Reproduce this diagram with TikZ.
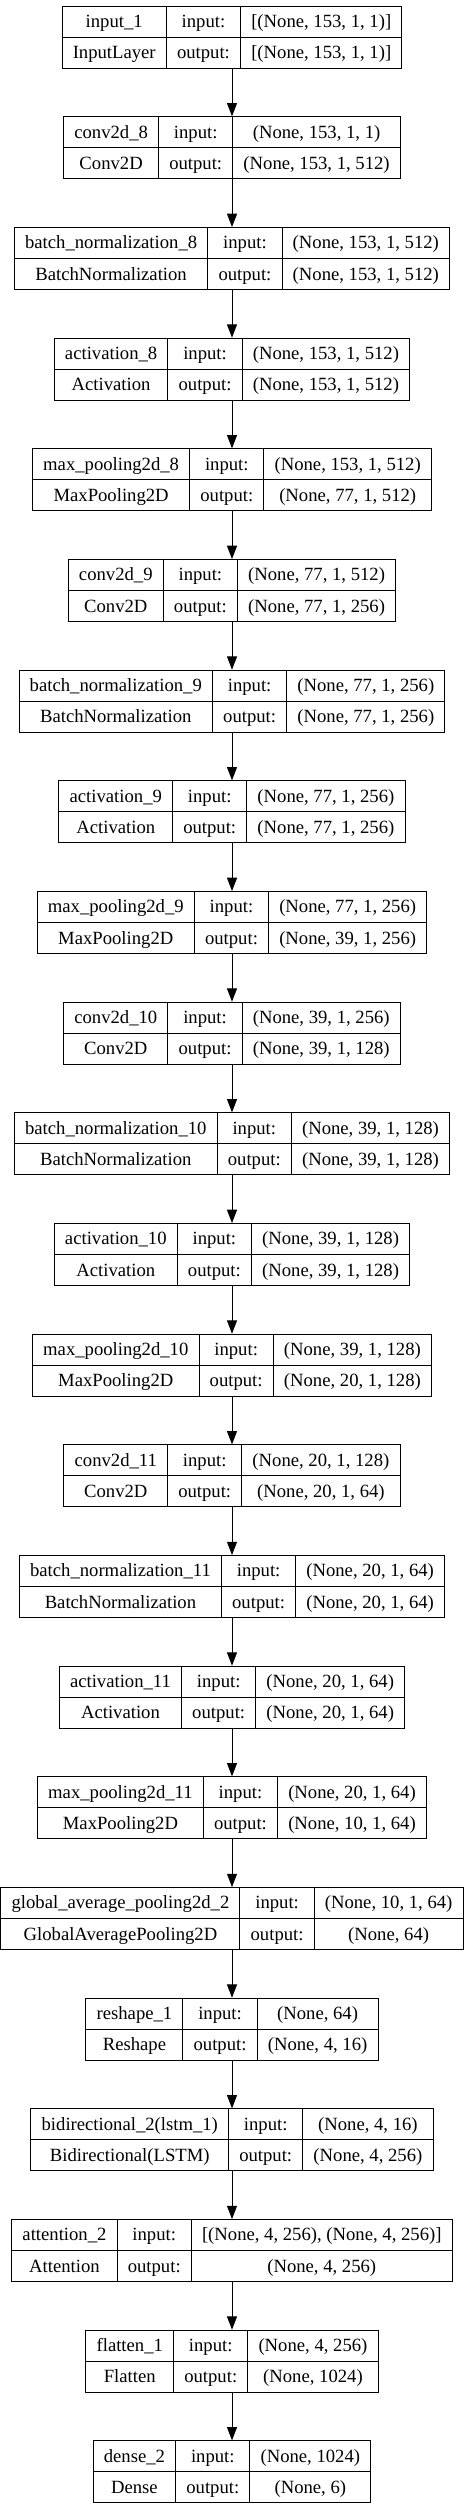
\documentclass[tikz,border=0pt]{standalone}
\usepackage{fontspec}
\setmainfont{Liberation Serif}
\usetikzlibrary{arrows.meta, positioning}
\newlength{\layerstep}
\setlength{\layerstep}{83pt}
\newlength{\topgap}
\setlength{\topgap}{4.3pt}
\newlength{\midx}
\setlength{\midx}{174pt}
\setlength{\tabcolsep}{8pt}
\setlength{\arrayrulewidth}{0.75pt}
\newcommand{\rowstrut}{\rule[-7pt]{0pt}{22.9pt}}
\newcommand{\layertext}[4]{\begin{tabular}{c|c|c}\rowstrut #1 & input: & #3 \\ \hline \rowstrut #2 & output: & #4 \end{tabular}}

\begin{document}
\begin{tikzpicture}[layer/.style={draw, inner sep=0pt, line width=0.75pt, anchor=north, font=\fontsize{14pt}{17pt}\selectfont}, flow/.style={-{Triangle[length=10pt, width=7.5pt]}, line width=0.75pt}]
  \useasboundingbox (0,0) rectangle (348pt,-1881pt);
  %Make nodes with one table per layer
  \draw (\midx, {-\topgap}) node[layer] (input) {\layertext{input\_1}{InputLayer}{[(None, 153, 1, 1)]}{[(None, 153, 1, 1)]}};
  \draw (\midx, {-\topgap-1\layerstep}) node[layer] (conv8) {\layertext{conv2d\_8}{Conv2D}{(None, 153, 1, 1)}{(None, 153, 1, 512)}};
  \draw (\midx, {-\topgap-2\layerstep}) node[layer] (bn8) {\layertext{batch\_normalization\_8}{BatchNormalization}{(None, 153, 1, 512)}{(None, 153, 1, 512)}};
  \draw (\midx, {-\topgap-3\layerstep}) node[layer] (act8) {\layertext{activation\_8}{Activation}{(None, 153, 1, 512)}{(None, 153, 1, 512)}};
  \draw (\midx, {-\topgap-4\layerstep}) node[layer] (pool8) {\layertext{max\_pooling2d\_8}{MaxPooling2D}{(None, 153, 1, 512)}{(None, 77, 1, 512)}};
  \draw (\midx, {-\topgap-5\layerstep}) node[layer] (conv9) {\layertext{conv2d\_9}{Conv2D}{(None, 77, 1, 512)}{(None, 77, 1, 256)}};
  \draw (\midx, {-\topgap-6\layerstep}) node[layer] (bn9) {\layertext{batch\_normalization\_9}{BatchNormalization}{(None, 77, 1, 256)}{(None, 77, 1, 256)}};
  \draw (\midx, {-\topgap-7\layerstep}) node[layer] (act9) {\layertext{activation\_9}{Activation}{(None, 77, 1, 256)}{(None, 77, 1, 256)}};
  \draw (\midx, {-\topgap-8\layerstep}) node[layer] (pool9) {\layertext{max\_pooling2d\_9}{MaxPooling2D}{(None, 77, 1, 256)}{(None, 39, 1, 256)}};
  \draw (\midx, {-\topgap-9\layerstep}) node[layer] (conv10) {\layertext{conv2d\_10}{Conv2D}{(None, 39, 1, 256)}{(None, 39, 1, 128)}};
  \draw (\midx, {-\topgap-10\layerstep}) node[layer] (bn10) {\layertext{batch\_normalization\_10}{BatchNormalization}{(None, 39, 1, 128)}{(None, 39, 1, 128)}};
  \draw (\midx, {-\topgap-11\layerstep}) node[layer] (act10) {\layertext{activation\_10}{Activation}{(None, 39, 1, 128)}{(None, 39, 1, 128)}};
  \draw (\midx, {-\topgap-12\layerstep}) node[layer] (pool10) {\layertext{max\_pooling2d\_10}{MaxPooling2D}{(None, 39, 1, 128)}{(None, 20, 1, 128)}};
  \draw (\midx, {-\topgap-13\layerstep}) node[layer] (conv11) {\layertext{conv2d\_11}{Conv2D}{(None, 20, 1, 128)}{(None, 20, 1, 64)}};
  \draw (\midx, {-\topgap-14\layerstep}) node[layer] (bn11) {\layertext{batch\_normalization\_11}{BatchNormalization}{(None, 20, 1, 64)}{(None, 20, 1, 64)}};
  \draw (\midx, {-\topgap-15\layerstep}) node[layer] (act11) {\layertext{activation\_11}{Activation}{(None, 20, 1, 64)}{(None, 20, 1, 64)}};
  \draw (\midx, {-\topgap-16\layerstep}) node[layer] (pool11) {\layertext{max\_pooling2d\_11}{MaxPooling2D}{(None, 20, 1, 64)}{(None, 10, 1, 64)}};
  \draw (\midx, {-\topgap-17\layerstep}) node[layer] (gap) {\layertext{global\_average\_pooling2d\_2}{GlobalAveragePooling2D}{(None, 10, 1, 64)}{(None, 64)}};
  \draw (\midx, {-\topgap-18\layerstep}) node[layer] (reshape) {\layertext{reshape\_1}{Reshape}{(None, 64)}{(None, 4, 16)}};
  \draw (\midx, {-\topgap-19\layerstep}) node[layer] (bilstm) {\layertext{bidirectional\_2(lstm\_1)}{Bidirectional(LSTM)}{(None, 4, 16)}{(None, 4, 256)}};
  \draw (\midx, {-\topgap-20\layerstep}) node[layer] (attn) {\layertext{attention\_2}{Attention}{[(None, 4, 256), (None, 4, 256)]}{(None, 4, 256)}};
  \draw (\midx, {-\topgap-21\layerstep}) node[layer] (flat) {\layertext{flatten\_1}{Flatten}{(None, 4, 256)}{(None, 1024)}};
  \draw (\midx, {-\topgap-22\layerstep}) node[layer] (dense) {\layertext{dense\_2}{Dense}{(None, 1024)}{(None, 6)}};

  %straight arrows between layers
  \path (input) edge[flow] (conv8);
  \path (conv8) edge[flow] (bn8);
  \path (bn8) edge[flow] (act8);
  \path (act8) edge[flow] (pool8);
  \path (pool8) edge[flow] (conv9);
  \path (conv9) edge[flow] (bn9);
  \path (bn9) edge[flow] (act9);
  \path (act9) edge[flow] (pool9);
  \path (pool9) edge[flow] (conv10);
  \path (conv10) edge[flow] (bn10);
  \path (bn10) edge[flow] (act10);
  \path (act10) edge[flow] (pool10);
  \path (pool10) edge[flow] (conv11);
  \path (conv11) edge[flow] (bn11);
  \path (bn11) edge[flow] (act11);
  \path (act11) edge[flow] (pool11);
  \path (pool11) edge[flow] (gap);
  \path (gap) edge[flow] (reshape);
  \path (reshape) edge[flow] (bilstm);
  \path (bilstm) edge[flow] (attn);
  \path (attn) edge[flow] (flat);
  \path (flat) edge[flow] (dense);
\end{tikzpicture}
\end{document}
